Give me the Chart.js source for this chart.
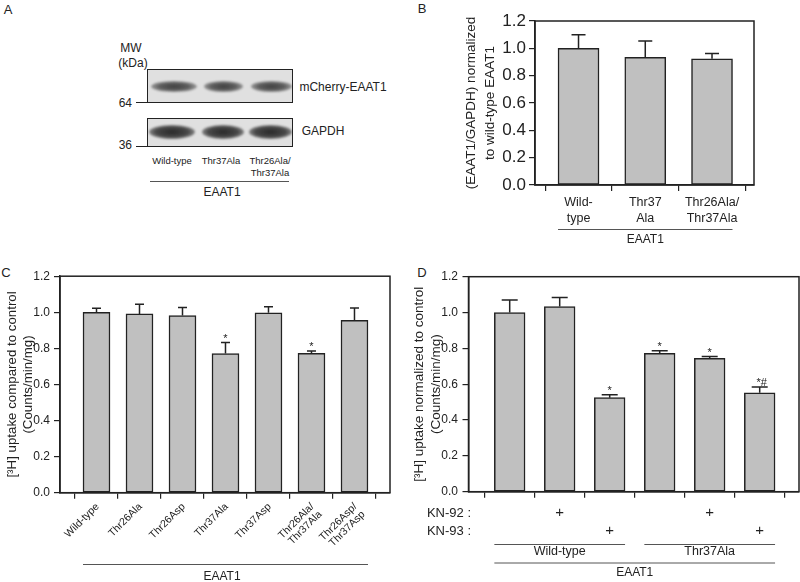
<!DOCTYPE html>
<html><head><meta charset="utf-8">
<script src="https://cdn.jsdelivr.net/npm/chart.js@4.4.1/dist/chart.umd.min.js"></script>
<style>
body{margin:0;width:800px;height:582px;background:#fff;position:relative;overflow:hidden;font-family:"Liberation Sans",Arial,sans-serif;color:#222}
canvas{position:absolute}
.t{position:absolute;white-space:nowrap;line-height:1;transform:translate(-50%,-50%)}
.r{position:absolute;white-space:nowrap;line-height:1;transform:translate(-100%,-50%)}
.blot{position:absolute;box-sizing:border-box;border:1.5px solid #222;background:#e0e0e0;overflow:hidden}
.band{position:absolute;border-radius:50%;filter:blur(1.3px)}
.hl{position:absolute;height:0;border-top:1px solid #555}
</style>
</head><body>

<!-- Panel letters -->
<div class="t" style="left:8px;top:9px;font-size:13px">A</div>
<div class="t" style="left:422px;top:8px;font-size:13px">B</div>
<div class="t" style="left:6px;top:272px;font-size:13px">C</div>
<div class="t" style="left:422px;top:272px;font-size:13px">D</div>

<!-- Panel A : western blot -->
<div class="t" style="left:131px;top:48px;font-size:12px">MW</div>
<div class="t" style="left:133px;top:63px;font-size:12px">(kDa)</div>
<div class="r" style="left:132px;top:103px;font-size:12px">64</div>
<div class="r" style="left:132px;top:145px;font-size:12px">36</div>
<div class="hl" style="left:136px;top:102px;width:11px;border-top-color:#222"></div>
<div class="hl" style="left:136px;top:146px;width:11px;border-top-color:#222"></div>
<div class="blot" id="blot1" style="left:147px;top:69px;width:146px;height:34px"></div>
<div class="blot" id="blot2" style="left:147px;top:118px;width:146px;height:29px"></div>
<div class="t" style="left:343px;top:87px;font-size:12px">mCherry-EAAT1</div>
<div class="t" style="left:323px;top:131px;font-size:12px">GAPDH</div>
<div id="laneLabels"></div>
<div class="hl" style="left:150px;top:181px;width:139px"></div>
<div class="t" style="left:222px;top:192px;font-size:12px">EAAT1</div>

<canvas id="chartB" width="400" height="290" style="left:400px;top:0px"></canvas>
<canvas id="chartC" width="400" height="317" style="left:0px;top:265px"></canvas>
<canvas id="chartD" width="400" height="317" style="left:400px;top:265px"></canvas>

<script>
// ---------------- data ----------------
const blotLanes = ['Wild-type', 'Thr37Ala', 'Thr26Ala/\nThr37Ala'];

const bCategories = [['Wild-', 'type'], ['Thr37', 'Ala'], ['Thr26Ala/', 'Thr37Ala']];
const bMeans  = [1.00, 0.934, 0.924];
const bErrors = [0.10, 0.119, 0.039];

const cCategories = [['Wild-type'], ['Thr26Ala'], ['Thr26Asp'], ['Thr37Ala'], ['Thr37Asp'], ['Thr26Ala/', 'Thr37Ala'], ['Thr26Asp/', 'Thr37Asp']];
const cMeans  = [1.000, 0.991, 0.982, 0.771, 0.997, 0.773, 0.956];
const cErrors = [0.022, 0.053, 0.044, 0.061, 0.034, 0.013, 0.068];
const cMarks  = ['', '', '', '*', '', '*', ''];

const dMeans  = [1.000, 1.033, 0.525, 0.772, 0.744, 0.552];
const dErrors = [0.070, 0.051, 0.016, 0.015, 0.010, 0.033];
const dMarks  = ['', '', '*', '*', '*', '*#'];
const dKN92   = ['', '+', '', '', '+', ''];
const dKN93   = ['', '', '+', '', '', '+'];
const dGroupNames = ['Wild-type', 'Thr37Ala'];
const dGroupFirst = [0, 3];
const dGroupLast  = [2, 5];

const yTickStep = 0.2;
const yMax = 1.2;

// ---------------- panel A (blot drawing) ----------------
(function(){
  const lab = document.getElementById('laneLabels');
  const cx = [172, 221, 270];
  blotLanes.forEach((s, i) => {
    const lines = s.split('\n');
    lines.forEach((ln, j) => {
      const d = document.createElement('div');
      d.className = 't';
      d.style.cssText = `left:${cx[i]}px;top:${161 + j*11.5}px;font-size:9.5px`;
      d.textContent = ln;
      lab.appendChild(d);
    });
  });
  const b1 = document.getElementById('blot1');
  [[3,46],[56,39],[103,41]].forEach(([l,w]) => {
    const d = document.createElement('div'); d.className='band';
    d.style.cssText = `left:${l}px;top:11px;width:${w}px;height:11px;background:radial-gradient(ellipse at center, rgba(55,55,55,0.95) 0%, rgba(70,70,70,0.85) 45%, rgba(90,90,90,0) 100%)`;
    b1.appendChild(d);
  });
  const b2 = document.getElementById('blot2');
  [[1,46],[54,42],[101,43]].forEach(([l,w]) => {
    const d = document.createElement('div'); d.className='band';
    d.style.cssText = `left:${l}px;top:6px;width:${w}px;height:14px;background:radial-gradient(ellipse at center, rgba(40,40,40,1) 0%, rgba(55,55,55,0.9) 50%, rgba(80,80,80,0) 100%)`;
    b2.appendChild(d);
  });
})();

// ---------------- charts ----------------
const FONT = '"Liberation Sans", Arial, sans-serif';
const INK = '#222';

function overlayPlugin(cfg) {
  return {
    id: 'overlay_' + cfg.id,
    afterDatasetsDraw(chart) {
      const ctx = chart.ctx, ca = chart.chartArea, ys = chart.scales.y;
      const meta = chart.getDatasetMeta(0);
      ctx.save();
      ctx.strokeStyle = INK; ctx.lineWidth = 1.5;
      ctx.strokeRect(ca.left, ca.top, ca.right - ca.left, ca.bottom - ca.top);
      meta.data.forEach((el, i) => {
        const top = ys.getPixelForValue(cfg.means[i] + cfg.errors[i]);
        ctx.beginPath();
        ctx.moveTo(el.x, el.y); ctx.lineTo(el.x, top);
        ctx.moveTo(el.x - cfg.cap, top); ctx.lineTo(el.x + cfg.cap, top);
        ctx.stroke();
        if (cfg.marks && cfg.marks[i]) {
          ctx.fillStyle = INK; ctx.font = '11px ' + FONT;
          ctx.textAlign = 'center'; ctx.textBaseline = 'alphabetic';
          ctx.fillText(cfg.marks[i], el.x + (cfg.marks[i].length > 1 ? 2 : 0), top - 1);
        }
      });
      if (cfg.extra) cfg.extra(chart, ctx, meta);
      ctx.restore();
    }
  };
}

function makePanel(cfg) {
  const pts = cfg.means.map((v, i) => ({x: i, y: v}));
  const chart = new Chart(document.getElementById(cfg.id), {
    type: 'bar',
    data: {datasets: [{data: pts, backgroundColor: '#c0c0c0', borderColor: INK, borderWidth: 1.5,
      borderSkipped: false, barThickness: cfg.barW}]},
    options: {
      responsive: false, animation: false, devicePixelRatio: 1,
      layout: {padding: cfg.pad},
      plugins: {legend: {display: false}, tooltip: {enabled: false}},
      scales: {
        x: {type: 'linear', bounds: 'data', min: cfg.xmin, max: cfg.xmax, offset: false,
          grid: {display: true, drawOnChartArea: false, drawTicks: true, tickLength: 6, color: INK, lineWidth: 1.2},
          border: {display: true, color: INK, width: 1.5},
          ticks: {display: false},
          afterBuildTicks: s => { s.ticks = cfg.means.map((_, i) => ({value: i})); },
          afterFit: s => { s.height = 10; }
        },
        y: {min: 0, max: yMax,
          ticks: {stepSize: yTickStep, callback: v => Number(v).toFixed(1), color: INK,
            font: {family: FONT, size: cfg.tickSize}, padding: cfg.tickPad},
          grid: {drawOnChartArea: false, drawTicks: true, tickLength: 6, color: INK, lineWidth: 1.2},
          border: {display: true, color: INK, width: 1.5},
          title: {display: true, text: cfg.title, color: INK,
            font: {family: FONT, size: cfg.titleSize || 13.5, lineHeight: cfg.titleLH}, padding: {top: cfg.titlePad, bottom: 0}},
          afterFit: s => { s.width = cfg.yW; }
        }
      }
    },
    plugins: [overlayPlugin(cfg)]
  });
  for (let k = 0; k < 3; k++) {
    const ca = chart.chartArea, t = cfg.target, p = chart.options.layout.padding;
    const dl = t.left - ca.left, dt = t.top - ca.top, dr = ca.right - t.right, db = ca.bottom - t.bottom;
    if (Math.abs(dl) < 0.3 && Math.abs(dt) < 0.3 && Math.abs(dr) < 0.3 && Math.abs(db) < 0.3) break;
    cfg.yW += dl; p.top += dt; p.right += dr; p.bottom += db;
    chart.update('none');
  }
  return chart;
}

function hline(ctx, x1, x2, y) {
  ctx.save(); ctx.strokeStyle = '#555'; ctx.lineWidth = 1;
  ctx.beginPath(); ctx.moveTo(x1, y + 0.5); ctx.lineTo(x2, y + 0.5); ctx.stroke(); ctx.restore();
}
function text(ctx, s, x, y, size, align) {
  ctx.fillStyle = INK; ctx.font = size + 'px ' + FONT;
  ctx.textAlign = align || 'center'; ctx.textBaseline = 'middle';
  ctx.fillText(s, x, y);
}

// Panel B
makePanel({
  id: 'chartB', means: bMeans, errors: bErrors, barW: 41, cap: 7,
  xmin: -0.652, xmax: 2.629,
  pad: {left: 0, top: 21, right: 46, bottom: 95}, yW: 135,
  target: {left: 135, top: 21, right: 354, bottom: 185},
  tickSize: 17, tickPad: 3,
  title: ['(EAAT1/GAPDH) normalized', 'to wild-type EAAT1'], titleLH: 1.4, titlePad: 61.5,
  extra(chart, ctx, meta) {
    meta.data.forEach((el, i) => {
      bCategories[i].forEach((ln, j) => text(ctx, ln, el.x, 203 + j * 15.5, 12.5));
    });
    const a = meta.data[0], b = meta.data[meta.data.length - 1];
    hline(ctx, a.x - a.width / 2, b.x + b.width / 2, 229);
    text(ctx, 'EAAT1', meta.data[1].x, 240, 12);
  }
});

// Panel C
makePanel({
  id: 'chartC', means: cMeans, errors: cErrors, marks: cMarks, barW: 27, cap: 4.5,
  xmin: -0.849, xmax: 6.826,
  pad: {left: 0, top: 9.3, right: 10, bottom: 79.3}, yW: 60,
  target: {left: 60, top: 9.3, right: 390, bottom: 227.7},
  tickSize: 12, tickPad: 4,
  title: ['[³H] uptake compared to control', '(Counts/min/mg)'], titleSize: 13.3, titleLH: 1.25, titlePad: 3.8,
  extra(chart, ctx, meta) {
    meta.data.forEach((el, i) => {
      ctx.save();
      ctx.translate(el.x + 1, 240);
      ctx.rotate(-Math.PI / 4);
      cCategories[i].forEach((ln, j) => {
        ctx.fillStyle = INK; ctx.font = '10.5px ' + FONT;
        ctx.textAlign = 'right'; ctx.textBaseline = 'middle';
        ctx.fillText(ln, 0, j * 11);
      });
      ctx.restore();
    });
    const a = meta.data[0], b = meta.data[meta.data.length - 1];
    hline(ctx, a.x - a.width / 2, b.x + b.width / 2, 299);
    text(ctx, 'EAAT1', 222, 312, 12);
  }
});

// Panel D
makePanel({
  id: 'chartD', means: dMeans, errors: dErrors, marks: dMarks, barW: 30.7, cap: 8,
  xmin: -0.824, xmax: 5.786,
  pad: {left: 0, top: 7.8, right: 1, bottom: 80.3}, yW: 68.5,
  target: {left: 68.5, top: 7.8, right: 399, bottom: 226.7},
  tickSize: 12, tickPad: 4.5,
  title: ['[³H] uptake normalized to control', '(Counts/min/mg)'], titleLH: 1.24, titlePad: 11.3,
  extra(chart, ctx, meta) {
    text(ctx, 'KN-92 :', 71, 248.5, 13, 'right');
    text(ctx, 'KN-93 :', 71, 266, 13, 'right');
    meta.data.forEach((el, i) => {
      if (dKN92[i]) text(ctx, dKN92[i], el.x, 248, 15);
      if (dKN93[i]) text(ctx, dKN93[i], el.x, 265.5, 15);
    });
    dGroupNames.forEach((g, k) => {
      const a = meta.data[dGroupFirst[k]], b = meta.data[dGroupLast[k]];
      hline(ctx, a.x - a.width / 2, b.x + b.width / 2, 279);
      text(ctx, g, (a.x + b.x) / 2, 287, 12.5);
    });
    const a = meta.data[0], b = meta.data[meta.data.length - 1];
    hline(ctx, a.x - a.width / 2, b.x + b.width / 2, 297.5);
    text(ctx, 'EAAT1', (a.x + b.x) / 2, 308, 12);
  }
});
</script>
</body></html>
